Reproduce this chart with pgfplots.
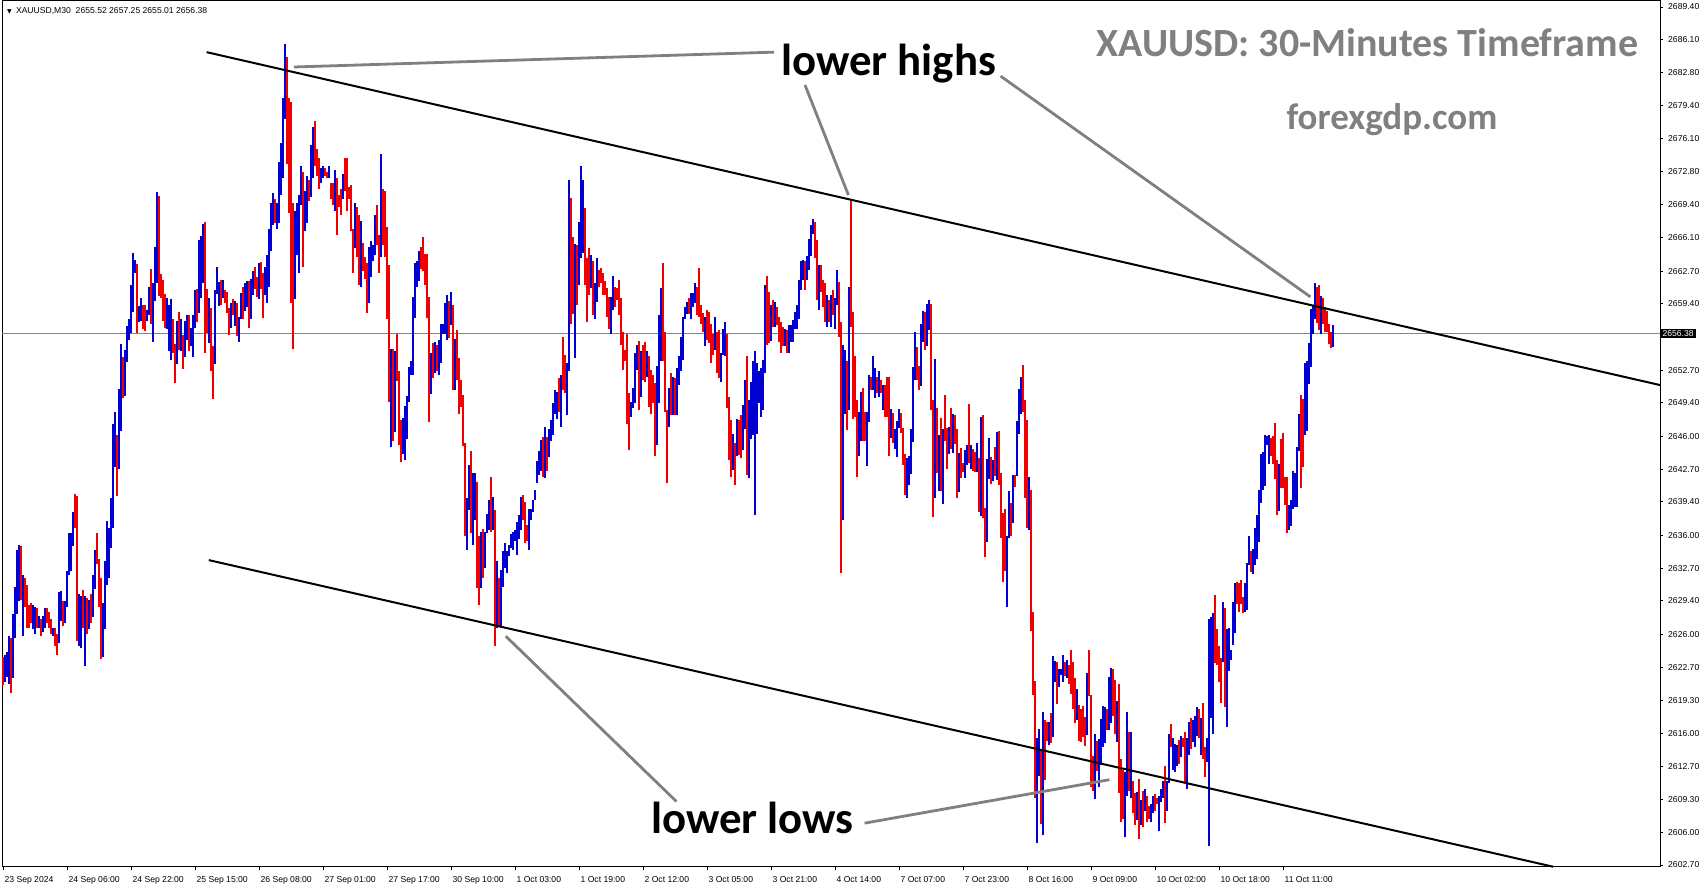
\documentclass[border=0pt]{standalone}
\usepackage{fontspec}
\usepackage{pgfplots}
\usepackage{pgfplotstable}
\pgfplotsset{compat=1.18}
\setmainfont{Liberation Sans}
\newfontfamily\calib{Carlito}
\newfontfamily\dejavu{DejaVu Sans}

\definecolor{barblue}{RGB}{0,0,210}
\definecolor{barred}{RGB}{240,0,0}
\definecolor{pricegray}{RGB}{119,136,153}
\definecolor{notegray}{RGB}{128,128,128}

% 30-minute bars, x = bar number, lo/hi = low and high price
\pgfplotstableread{
x lo hi
1 2621.2 2623.9
2 2621.7 2624.2
3 2621.0 2625.8
5 2621.6 2628.1
6 2625.6 2630.8
7 2628.1 2634.5
8 2629.4 2635.0
10 2625.8 2632.0
15 2626.5 2629.0
16 2626.0 2628.8
18 2626.7 2627.9
20 2626.2 2627.9
21 2626.7 2628.7
25 2625.8 2626.7
28 2625.1 2630.3
29 2627.4 2630.4
31 2627.2 2629.4
32 2628.8 2632.4
33 2632.0 2636.3
34 2632.4 2636.3
35 2634.9 2638.4
38 2624.8 2630.1
39 2624.6 2629.9
41 2622.8 2629.9
43 2626.5 2629.5
45 2627.8 2632.0
46 2630.6 2634.5
50 2623.7 2629.2
51 2626.5 2633.4
52 2631.0 2637.5
53 2631.7 2636.8
54 2634.7 2639.8
55 2636.8 2647.3
56 2642.9 2648.5
58 2642.7 2650.8
59 2646.6 2655.3
61 2650.1 2654.7
62 2653.5 2657.2
63 2655.8 2657.9
64 2656.5 2661.3
65 2658.6 2664.5
66 2662.5 2663.8
68 2657.6 2659.2
69 2657.7 2660.0
72 2657.7 2658.8
73 2658.3 2661.1
75 2655.6 2661.5
76 2659.7 2665.2
77 2661.5 2670.7
82 2656.9 2660.0
83 2654.6 2659.3
84 2653.7 2659.9
87 2653.3 2657.7
89 2654.6 2657.9
91 2654.0 2657.7
92 2655.8 2658.3
94 2655.1 2657.0
95 2654.0 2658.3
96 2657.0 2660.8
98 2658.5 2665.9
99 2660.0 2666.3
100 2661.5 2667.5
103 2655.4 2660.0
106 2653.3 2660.8
107 2660.4 2663.1
108 2659.2 2661.6
110 2660.0 2661.8
114 2657.0 2659.5
116 2657.2 2659.7
118 2655.6 2658.1
119 2657.9 2660.5
121 2658.7 2661.5
122 2659.1 2661.7
124 2657.9 2661.9
125 2660.3 2662.7
128 2659.9 2663.5
131 2660.3 2663.1
132 2659.5 2664.3
133 2661.1 2667.0
134 2664.7 2669.6
135 2667.4 2670.6
137 2667.0 2669.6
138 2667.6 2673.7
139 2670.4 2675.7
140 2672.1 2680.2
141 2678.1 2685.7
146 2659.9 2668.8
147 2664.3 2669.6
148 2662.5 2670.4
149 2669.4 2673.3
151 2666.8 2670.8
152 2667.6 2672.3
154 2670.2 2675.5
155 2672.1 2677.3
159 2671.6 2673.1
160 2672.1 2673.3
163 2672.1 2673.3
166 2668.8 2672.9
170 2670.0 2672.5
176 2665.0 2669.6
179 2661.1 2667.8
183 2659.5 2665.2
184 2662.1 2665.8
185 2663.7 2665.4
186 2664.3 2668.4
189 2664.1 2674.5
194 2644.9 2654.8
196 2646.5 2654.6
200 2644.2 2647.9
201 2643.6 2649.1
202 2645.7 2650.1
203 2649.5 2653.0
204 2652.2 2653.6
205 2652.2 2660.1
206 2658.0 2663.5
207 2661.1 2663.7
208 2661.7 2664.7
214 2650.3 2654.4
216 2652.4 2655.6
218 2652.2 2655.8
219 2653.4 2657.4
220 2656.4 2657.4
221 2656.4 2659.5
222 2655.8 2660.3
224 2657.3 2660.6
226 2650.7 2655.9
232 2634.5 2639.8
233 2638.6 2643.1
235 2635.0 2642.3
236 2637.6 2642.3
239 2630.7 2636.4
241 2632.7 2636.4
242 2636.2 2638.2
243 2636.6 2639.6
245 2636.6 2639.9
247 2626.6 2633.4
249 2626.6 2632.5
250 2630.8 2634.4
251 2632.7 2635.2
252 2632.2 2634.4
253 2633.9 2635.0
254 2634.7 2636.1
255 2634.5 2636.4
256 2635.4 2636.6
257 2634.0 2637.4
258 2635.6 2638.1
259 2636.6 2639.9
263 2634.5 2638.7
264 2637.6 2638.7
265 2638.4 2639.6
266 2639.6 2640.6
267 2641.3 2643.5
268 2642.1 2644.5
269 2642.5 2645.6
271 2641.8 2647.0
273 2643.9 2646.8
274 2645.5 2647.7
275 2646.2 2649.4
276 2648.3 2650.7
277 2647.8 2650.5
279 2647.0 2652.2
282 2648.2 2653.4
283 2652.6 2671.9
286 2653.9 2665.5
288 2661.3 2667.7
289 2664.0 2673.3
290 2664.5 2671.9
294 2661.0 2664.3
296 2657.9 2661.5
297 2659.6 2664.0
304 2656.4 2660.1
305 2658.8 2662.2
314 2648.0 2649.5
315 2648.9 2650.9
316 2649.4 2654.4
317 2652.7 2655.2
319 2650.0 2654.6
322 2652.0 2654.6
327 2645.1 2653.1
328 2649.4 2658.3
329 2653.6 2661.0
333 2647.0 2650.9
335 2648.2 2652.0
337 2648.2 2652.9
338 2651.2 2654.1
339 2652.6 2656.1
340 2653.7 2658.1
341 2657.9 2659.1
342 2658.4 2659.6
344 2657.9 2660.5
345 2659.1 2660.5
346 2659.5 2661.5
351 2655.1 2658.1
356 2654.7 2658.1
359 2651.5 2654.4
360 2654.2 2656.9
361 2654.1 2657.6
365 2642.6 2646.3
367 2644.0 2647.8
370 2644.6 2649.2
371 2646.8 2651.7
373 2641.8 2649.7
374 2645.7 2651.5
375 2646.2 2653.6
376 2638.1 2654.6
377 2646.3 2653.4
378 2649.4 2652.6
379 2648.0 2652.9
380 2648.7 2653.7
381 2652.4 2661.3
384 2655.7 2659.3
386 2657.1 2659.6
391 2655.1 2656.9
393 2654.4 2657.3
394 2655.6 2657.3
395 2655.6 2657.8
396 2656.9 2658.6
397 2656.9 2659.3
398 2657.9 2661.8
399 2660.8 2663.7
400 2661.8 2663.8
402 2661.8 2664.2
403 2662.8 2666.0
404 2664.2 2667.4
405 2666.5 2668.0
408 2658.8 2663.3
412 2657.1 2660.3
414 2657.1 2660.3
416 2656.9 2660.0
417 2659.3 2662.8
420 2637.6 2655.2
421 2648.3 2654.7
423 2648.7 2661.1
428 2644.0 2648.5
429 2645.5 2650.5
432 2643.0 2648.5
433 2647.5 2652.2
435 2650.7 2654.1
436 2649.9 2652.9
438 2650.0 2652.6
440 2648.7 2651.2
444 2645.8 2648.8
446 2644.7 2646.8
447 2643.9 2647.6
448 2646.9 2648.8
452 2639.8 2643.8
453 2641.1 2644.0
454 2642.2 2646.8
455 2645.4 2653.0
456 2651.7 2656.6
459 2651.1 2657.4
460 2655.6 2658.7
462 2655.1 2659.4
463 2656.8 2659.8
466 2639.8 2653.8
468 2640.5 2646.2
470 2639.2 2646.8
473 2644.2 2647.0
475 2644.3 2648.3
478 2640.4 2644.3
481 2641.8 2644.6
482 2643.1 2645.1
484 2642.7 2645.1
487 2642.4 2645.3
489 2638.0 2648.0
492 2635.3 2643.7
493 2641.7 2645.8
495 2641.5 2643.6
497 2641.6 2646.5
502 2628.8 2635.9
503 2635.7 2640.5
505 2637.3 2642.1
507 2642.0 2647.6
508 2646.3 2650.8
509 2648.3 2652.0
513 2636.6 2641.9
517 2604.9 2615.5
518 2611.7 2616.4
520 2605.7 2618.2
523 2614.8 2617.2
525 2615.6 2623.8
526 2621.2 2623.3
528 2620.7 2622.5
529 2621.9 2622.5
530 2621.2 2623.9
532 2621.6 2623.4
537 2617.4 2620.5
542 2615.8 2622.1
546 2609.4 2615.9
548 2610.6 2615.4
549 2612.8 2617.5
550 2614.6 2618.8
551 2615.0 2618.7
553 2616.3 2621.7
554 2617.0 2622.6
557 2615.1 2619.3
561 2605.5 2612.1
562 2609.7 2618.2
564 2609.5 2616.1
567 2607.2 2610.1
569 2606.7 2609.3
571 2608.2 2610.4
574 2607.0 2608.9
575 2608.0 2609.7
578 2606.1 2609.7
579 2609.1 2610.4
580 2609.5 2611.2
582 2608.2 2611.2
583 2611.0 2615.9
585 2612.3 2615.5
586 2612.1 2614.9
587 2612.7 2614.8
589 2613.6 2615.7
592 2610.4 2615.5
593 2613.8 2617.2
595 2615.1 2617.4
596 2614.6 2617.8
597 2615.7 2618.7
599 2613.8 2617.6
602 2613.1 2615.5
603 2604.6 2627.6
604 2617.6 2627.8
605 2615.9 2628.2
610 2623.2 2629.3
612 2616.6 2626.5
613 2622.3 2626.6
614 2623.4 2624.4
615 2624.9 2629.3
616 2626.1 2631.2
621 2628.3 2631.2
622 2628.5 2633.2
623 2633.0 2635.9
625 2632.1 2634.6
626 2633.0 2636.8
627 2633.6 2638.1
628 2635.3 2640.6
629 2639.3 2644.2
630 2640.6 2644.4
631 2641.0 2646.2
632 2645.1 2646.1
633 2643.2 2646.2
638 2638.5 2643.2
643 2636.6 2639.1
644 2637.0 2639.6
645 2638.7 2642.5
646 2638.9 2642.3
647 2638.9 2644.9
648 2644.5 2648.3
651 2646.2 2653.4
652 2646.6 2653.6
653 2651.3 2655.5
654 2653.0 2658.9
655 2656.4 2659.2
656 2657.9 2661.5
659 2656.4 2660.2
665 2655.0 2657.3
}\upbars

\pgfplotstableread{
x lo hi
0 2620.9 2623.7
4 2620.1 2625.6
9 2629.5 2634.9
11 2628.8 2631.7
12 2626.7 2631.0
13 2626.7 2629.0
14 2627.2 2629.2
17 2626.7 2628.7
19 2625.8 2627.6
22 2627.2 2628.7
23 2626.7 2628.3
24 2626.0 2627.6
26 2624.8 2626.7
27 2623.9 2626.0
30 2626.9 2629.4
36 2636.8 2640.2
37 2625.3 2640.0
40 2626.7 2630.5
42 2626.0 2629.7
44 2627.2 2630.1
47 2633.1 2636.3
48 2628.8 2633.6
49 2623.5 2631.7
57 2640.0 2646.2
60 2649.9 2654.0
67 2656.5 2663.4
70 2656.9 2659.3
71 2656.7 2659.3
74 2657.4 2662.9
78 2660.2 2670.3
79 2660.0 2662.4
80 2657.7 2661.8
81 2657.0 2660.4
85 2654.4 2657.9
86 2651.4 2655.3
88 2654.7 2658.6
90 2652.8 2656.3
93 2654.6 2658.3
97 2657.6 2660.9
101 2654.4 2667.7
102 2656.5 2660.9
104 2652.6 2659.0
105 2649.8 2655.1
109 2659.3 2661.8
111 2659.5 2660.8
112 2658.5 2660.6
113 2656.3 2659.0
115 2658.3 2659.9
117 2656.2 2659.5
120 2657.9 2661.1
123 2657.0 2661.7
126 2660.9 2663.1
127 2660.1 2662.1
129 2660.9 2663.6
130 2658.0 2662.5
136 2667.6 2670.0
142 2673.5 2684.4
143 2668.6 2680.2
144 2659.5 2679.8
145 2654.8 2669.6
150 2663.1 2672.7
153 2669.8 2671.9
156 2673.3 2677.9
157 2672.3 2675.1
158 2671.0 2674.1
161 2672.3 2673.1
162 2672.1 2672.7
164 2670.0 2671.6
165 2669.4 2671.6
167 2666.4 2672.1
168 2669.2 2670.4
169 2668.4 2671.0
171 2670.8 2674.1
172 2668.8 2674.1
173 2670.0 2671.2
174 2666.8 2671.4
175 2662.5 2667.0
177 2664.1 2669.2
178 2661.3 2668.4
180 2662.7 2665.6
181 2661.9 2664.1
182 2658.5 2663.5
187 2665.4 2669.4
188 2662.5 2666.4
190 2665.4 2671.0
191 2664.1 2670.8
192 2657.9 2667.2
193 2649.5 2663.3
195 2645.5 2654.8
197 2651.6 2656.4
198 2645.1 2652.6
199 2643.4 2647.7
209 2662.9 2665.2
210 2662.7 2666.2
211 2661.3 2664.4
212 2658.0 2664.4
213 2647.5 2660.1
215 2651.9 2655.4
217 2652.6 2655.2
223 2656.0 2659.7
225 2650.7 2659.3
227 2651.7 2656.8
228 2648.3 2653.9
229 2649.0 2651.7
230 2645.0 2650.2
231 2635.9 2645.3
234 2636.2 2644.5
237 2630.7 2641.4
238 2629.0 2635.9
240 2631.7 2636.7
244 2636.4 2641.9
246 2624.8 2638.6
248 2626.8 2631.7
260 2637.6 2640.1
261 2635.2 2639.4
262 2635.4 2637.1
270 2641.9 2646.0
272 2642.5 2646.0
278 2648.5 2651.9
280 2650.7 2656.1
281 2650.4 2654.2
284 2657.4 2670.1
285 2658.4 2666.2
287 2659.3 2665.4
291 2661.3 2669.1
292 2657.6 2664.0
293 2660.3 2665.0
295 2658.3 2663.7
298 2661.1 2662.8
299 2661.5 2663.0
300 2660.3 2662.5
301 2660.3 2661.7
302 2658.1 2661.0
303 2656.9 2660.1
306 2659.1 2661.1
307 2659.8 2661.0
308 2658.3 2661.8
309 2655.2 2660.0
310 2652.7 2656.6
311 2653.6 2654.7
312 2647.3 2656.4
313 2644.6 2650.4
318 2648.7 2655.7
320 2651.7 2655.2
321 2651.5 2655.6
323 2649.0 2654.1
324 2648.3 2652.7
325 2649.4 2652.2
326 2644.0 2651.4
330 2653.6 2663.5
331 2648.5 2656.6
332 2641.3 2648.7
334 2648.2 2652.4
336 2648.2 2651.9
343 2658.4 2660.0
347 2658.3 2661.1
348 2658.1 2663.0
349 2657.4 2659.3
350 2656.6 2658.5
352 2655.8 2658.8
353 2655.4 2658.6
354 2653.4 2657.4
355 2654.2 2656.4
357 2652.4 2656.6
358 2651.9 2656.8
362 2648.9 2656.4
363 2643.6 2650.0
364 2641.9 2647.7
366 2641.1 2645.3
368 2644.1 2647.7
369 2643.8 2648.2
372 2642.1 2654.1
382 2655.2 2662.2
383 2655.4 2660.6
385 2657.1 2659.8
387 2657.3 2659.1
388 2655.6 2658.1
389 2654.4 2657.6
390 2655.1 2657.1
392 2654.4 2656.8
401 2660.8 2663.7
406 2664.0 2667.7
407 2659.8 2665.9
409 2660.6 2663.3
410 2659.1 2661.8
411 2657.6 2661.5
413 2657.6 2659.8
415 2658.3 2660.8
418 2656.1 2661.6
419 2632.2 2657.6
422 2646.7 2653.6
424 2657.1 2670.0
425 2647.8 2658.6
426 2648.0 2654.1
427 2641.9 2649.7
430 2645.5 2650.9
431 2645.5 2648.5
434 2650.7 2652.0
437 2650.4 2652.0
439 2650.4 2651.7
441 2648.0 2651.2
442 2648.0 2652.0
443 2644.0 2652.0
445 2645.3 2648.4
449 2646.4 2648.4
450 2643.1 2646.9
451 2640.1 2644.2
457 2651.7 2655.0
458 2650.7 2653.1
461 2654.7 2658.6
464 2648.7 2659.4
465 2637.9 2649.7
467 2642.3 2648.9
469 2640.5 2647.9
471 2645.5 2650.2
472 2642.7 2646.9
474 2644.7 2648.9
476 2645.2 2648.2
477 2639.8 2646.8
479 2641.8 2644.8
480 2642.4 2643.3
483 2643.3 2649.3
485 2642.5 2644.7
486 2642.4 2644.4
488 2638.4 2643.8
490 2637.8 2648.2
491 2633.8 2638.8
494 2641.2 2643.9
496 2642.0 2644.9
498 2641.1 2646.6
499 2635.7 2642.3
500 2631.3 2638.3
501 2632.4 2638.7
504 2635.9 2639.3
506 2640.9 2642.1
510 2648.5 2653.2
511 2639.8 2649.7
512 2636.8 2647.7
514 2626.3 2640.6
515 2619.9 2628.3
516 2609.5 2621.3
519 2606.8 2614.4
521 2611.3 2617.4
522 2615.2 2617.2
524 2615.0 2618.1
527 2619.0 2623.2
531 2621.8 2623.2
533 2621.0 2622.9
534 2620.0 2624.4
535 2618.5 2623.2
536 2617.0 2621.6
538 2615.2 2618.9
539 2615.1 2618.5
540 2615.6 2618.8
541 2614.7 2617.7
543 2619.8 2624.4
544 2610.6 2619.9
545 2610.2 2613.7
547 2612.2 2615.2
552 2616.3 2618.5
555 2617.8 2622.5
556 2615.9 2621.4
558 2610.0 2621.0
559 2607.0 2613.4
560 2607.4 2612.3
563 2610.2 2616.1
565 2608.0 2611.2
566 2606.7 2610.0
568 2605.3 2611.4
570 2606.5 2610.2
572 2607.0 2609.7
573 2607.4 2608.7
576 2608.2 2609.9
577 2608.9 2609.5
581 2606.9 2612.7
584 2614.6 2617.0
588 2612.9 2615.3
590 2614.6 2615.5
591 2611.0 2616.1
594 2614.4 2617.6
598 2615.5 2618.5
600 2613.4 2619.1
601 2611.6 2614.6
606 2623.1 2630.0
607 2622.9 2626.5
608 2621.2 2624.8
609 2619.1 2623.6
611 2618.7 2628.7
617 2629.1 2631.3
618 2628.3 2631.2
619 2629.1 2631.5
620 2628.2 2629.8
624 2632.3 2634.4
634 2644.0 2645.9
635 2643.2 2646.1
636 2641.7 2647.4
637 2638.1 2643.6
639 2640.8 2645.7
640 2640.8 2646.4
641 2639.1 2641.9
642 2636.3 2641.9
649 2640.8 2650.2
650 2642.9 2649.8
657 2657.5 2661.1
658 2656.8 2661.3
660 2657.4 2660.0
661 2656.6 2659.1
662 2656.6 2658.7
663 2655.3 2657.4
664 2654.9 2656.6
}\downbars

\begin{document}
\begin{tikzpicture}
\fill[white] (-1pt,-10.5pt) rectangle (851.5pt,433.5pt);
\begin{axis}[
    scale only axis,
    width=829pt, height=433pt,
    xmin=-0.5, xmax=828.5,
    ymin=2602.50, ymax=2690.01,
    clip=false,
    axis line style={black, line width=0.5pt},
    tick style={black, line width=0.5pt},
    tick align=outside,
    major tick length=1.5pt,
    xtick pos=bottom, ytick pos=right,
    yticklabel pos=right,
    scaled y ticks=false,
    xtick={0,32,...,640},
    xticklabels={23 Sep 2024, 24 Sep 06:00, 24 Sep 22:00, 25 Sep 15:00,
        26 Sep 08:00, 27 Sep 01:00, 27 Sep 17:00, 30 Sep 10:00,
        1 Oct 03:00, 1 Oct 19:00, 2 Oct 12:00, 3 Oct 05:00, 3 Oct 21:00,
        4 Oct 14:00, 7 Oct 07:00, 7 Oct 23:00, 8 Oct 16:00, 9 Oct 09:00,
        10 Oct 02:00, 10 Oct 18:00, 11 Oct 11:00},
    ytick={2602.7,2606.0,2609.3,2612.7,2616.0,2619.3,2622.7,2626.0,2629.4,
        2632.7,2636.0,2639.4,2642.7,2646.0,2649.4,2652.7,2659.4,2662.7,
        2666.1,2669.4,2672.8,2676.1,2679.4,2682.8,2686.1,2689.4},
    tick label style={font=\fontsize{4.3}{5}\selectfont, inner sep=0pt},
    xticklabel style={anchor=north west, xshift=0.6pt, yshift=-3.2pt},
    yticklabel style={anchor=west, xshift=2.4pt,
        /pgf/number format/.cd, fixed, fixed zerofill, precision=2,
        1000 sep={}, assume math mode=true},
]
% current price line
\addplot[pricegray, line width=0.5pt] coordinates {(-0.5,2656.38) (828.5,2656.38)};

% up bars (blue) and down bars (red), drawn as low-to-high strokes
\addplot[draw=none, mark=none,
    error bars/.cd, y dir=plus, y explicit, error mark=none,
    error bar style={draw=barblue, line width=0.55pt}]
    table[x=x, y=lo, y error plus expr=\thisrow{hi}-\thisrow{lo}] {\upbars};
\addplot[draw=none, mark=none,
    error bars/.cd, y dir=plus, y explicit, error mark=none,
    error bar style={draw=barred, line width=0.55pt}]
    table[x=x, y=lo, y error plus expr=\thisrow{hi}-\thisrow{lo}] {\downbars};

% channel lines
\addplot[black, line width=1pt] coordinates {(101.8,2684.84) (828.5,2651.20)};
\addplot[black, line width=1pt] coordinates {(102.9,2633.51) (775.0,2602.53)};

% pointer lines
\draw[notegray, line width=1.4pt] (axis cs:145.5,2683.34) -- (axis cs:385.5,2684.84);
\draw[notegray, line width=1.4pt] (axis cs:401.0,2681.52) -- (axis cs:422.7,2670.40);
\draw[notegray, line width=1.4pt] (axis cs:498.8,2682.42) -- (axis cs:653.7,2660.11);
\draw[notegray, line width=1.4pt] (axis cs:251.4,2625.82) -- (axis cs:336.7,2609.12);
\draw[notegray, line width=1.4pt] (axis cs:430.8,2606.93) -- (axis cs:553.2,2611.32);

% texts
\node[anchor=base, inner sep=0pt, font=\calib\bfseries\fontsize{22.4}{24}\selectfont]
    at (axis cs:442.75,2682.43) {lower highs};
\node[anchor=base, inner sep=0pt, font=\calib\bfseries\fontsize{22.4}{24}\selectfont]
    at (axis cs:374.75,2605.93) {lower lows};
\node[anchor=base, inner sep=0pt, text=notegray, font=\calib\bfseries\fontsize{20}{22}\selectfont]
    at (axis cs:682.25,2684.40) {XAUUSD: 30-Minutes Timeframe};
\node[anchor=base, inner sep=0pt, text=notegray, font=\calib\bfseries\fontsize{18.5}{20}\selectfont]
    at (axis cs:694.5,2677.03) {forexgdp.com};
\node[anchor=base west, inner sep=0pt, font=\fontsize{4.3}{5}\selectfont]
    at (axis cs:1.8,2688.77) {{\dejavu\fontsize{3}{3}\selectfont ▼}\hspace{2.2pt}XAUUSD,M30\ \ 2655.52 2657.25 2655.01 2656.38};

% price tag
\node[anchor=west, fill=black, text=white, inner xsep=1pt, inner ysep=0.7pt,
    font=\fontsize{4.3}{5}\selectfont] at (axis cs:828.6,2656.38) {2656.38};
\end{axis}
\pgfresetboundingbox
\path[use as bounding box] (-1pt,-10.5pt) rectangle (851.5pt,433.5pt);
\end{tikzpicture}
\end{document}
